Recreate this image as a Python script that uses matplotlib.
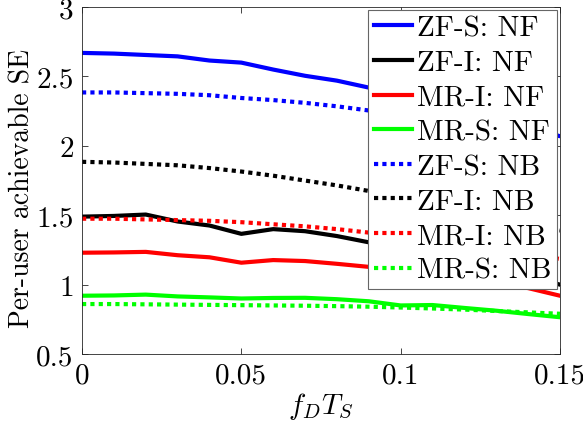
import numpy as np
import matplotlib
matplotlib.use("Agg")
from matplotlib import pyplot as plt

# Doppler-time product on the x axis
fdts = [0, 0.01, 0.02, 0.03, 0.04, 0.05, 0.06, 0.07, 0.08, 0.09, 0.10, 0.11, 0.12, 0.13, 0.14, 0.15]

zfs_nf = [2.67, 2.665, 2.655, 2.645, 2.615, 2.60, 2.55, 2.505, 2.47, 2.42, 2.36, 2.30, 2.24, 2.18, 2.12, 2.07]
zfi_nf = [1.49, 1.495, 1.505, 1.455, 1.426, 1.366, 1.40, 1.385, 1.35, 1.305, 1.27, 1.22, 1.16, 1.11, 1.06, 1.00]
mri_nf = [1.23, 1.232, 1.236, 1.212, 1.197, 1.158, 1.177, 1.17, 1.15, 1.128, 1.10, 1.07, 1.04, 1.01, 0.975, 0.92]
mrs_nf = [0.92, 0.922, 0.928, 0.915, 0.908, 0.9, 0.904, 0.905, 0.895, 0.88, 0.85, 0.853, 0.832, 0.812, 0.788, 0.765]
zfs_nb = [2.385, 2.385, 2.38, 2.375, 2.365, 2.345, 2.33, 2.31, 2.285, 2.255, 2.22, 2.19, 2.16, 2.13, 2.10, 2.07]
zfi_nb = [1.885, 1.88, 1.87, 1.86, 1.84, 1.815, 1.785, 1.75, 1.715, 1.675, 1.64, 1.59, 1.54, 1.49, 1.44, 1.39]
mri_nb = [1.475, 1.475, 1.47, 1.465, 1.46, 1.45, 1.435, 1.42, 1.40, 1.375, 1.35, 1.32, 1.29, 1.25, 1.22, 1.185]
mrs_nb = [0.86, 0.86, 0.858, 0.856, 0.854, 0.852, 0.85, 0.848, 0.845, 0.841, 0.835, 0.828, 0.82, 0.81, 0.80, 0.79]

labels = ["ZF-S: NF", "ZF-I: NF", "MR-I: NF", "MR-S: NF",
          "ZF-S: NB", "ZF-I: NB", "MR-I: NB", "MR-S: NB"]
series = [zfs_nf, zfi_nf, mri_nf, mrs_nf, zfs_nb, zfi_nb, mri_nb, mrs_nb]
colors = ["#0000ff", "#000000", "#ff0000", "#00ff00"] * 2

plt.rcParams["font.family"] = ["cmr10", "DejaVu Serif"]
plt.rcParams["mathtext.fontset"] = "cm"
plt.rcParams["axes.formatter.use_mathtext"] = True

fig = plt.figure(figsize=(5.83, 4.27), dpi=100)
ax = fig.add_axes([0.1407, 0.1686, 0.8198, 0.8124])

for i in range(8):
    if i < 4:
        ax.plot(fdts, series[i], color=colors[i], lw=3, label=labels[i])
    else:
        ax.plot(fdts, series[i], color=colors[i], lw=3, ls=(0, (1, 1)),
                dash_capstyle="butt", label=labels[i])

ax.set_xlim(0, 0.15)
ax.set_ylim(0.5, 3)
ax.set_xticks([0, 0.05, 0.1, 0.15])
ax.set_xticklabels(["0", "0.05", "0.1", "0.15"])
ax.set_yticks([0.5, 1, 1.5, 2, 2.5, 3])
ax.set_yticklabels(["0.5", "1", "1.5", "2", "2.5", "3"])
ax.tick_params(direction="in", top=True, right=True, labelsize=21, length=4,
               width=0.6, color="#262626", pad=6)
for s in ax.spines.values():
    s.set_color("#262626")
    s.set_linewidth(0.6)

ax.set_xlabel(r"$f_D T_S$", fontsize=21)
ax.xaxis.set_label_coords(0.5, -0.105)
ax.set_ylabel("Per-user achievable SE", fontsize=20)
ax.yaxis.set_label_coords(-0.098, 0.48)

leg = ax.legend(loc="upper right", fontsize=21, handlelength=1.3, handletextpad=0.2,
                labelspacing=0.28, borderpad=0.18, borderaxespad=0.1, fancybox=False,
                framealpha=1, edgecolor="#666666")
leg.get_frame().set_linewidth(0.8)

fig.savefig("out.png", dpi=100)
